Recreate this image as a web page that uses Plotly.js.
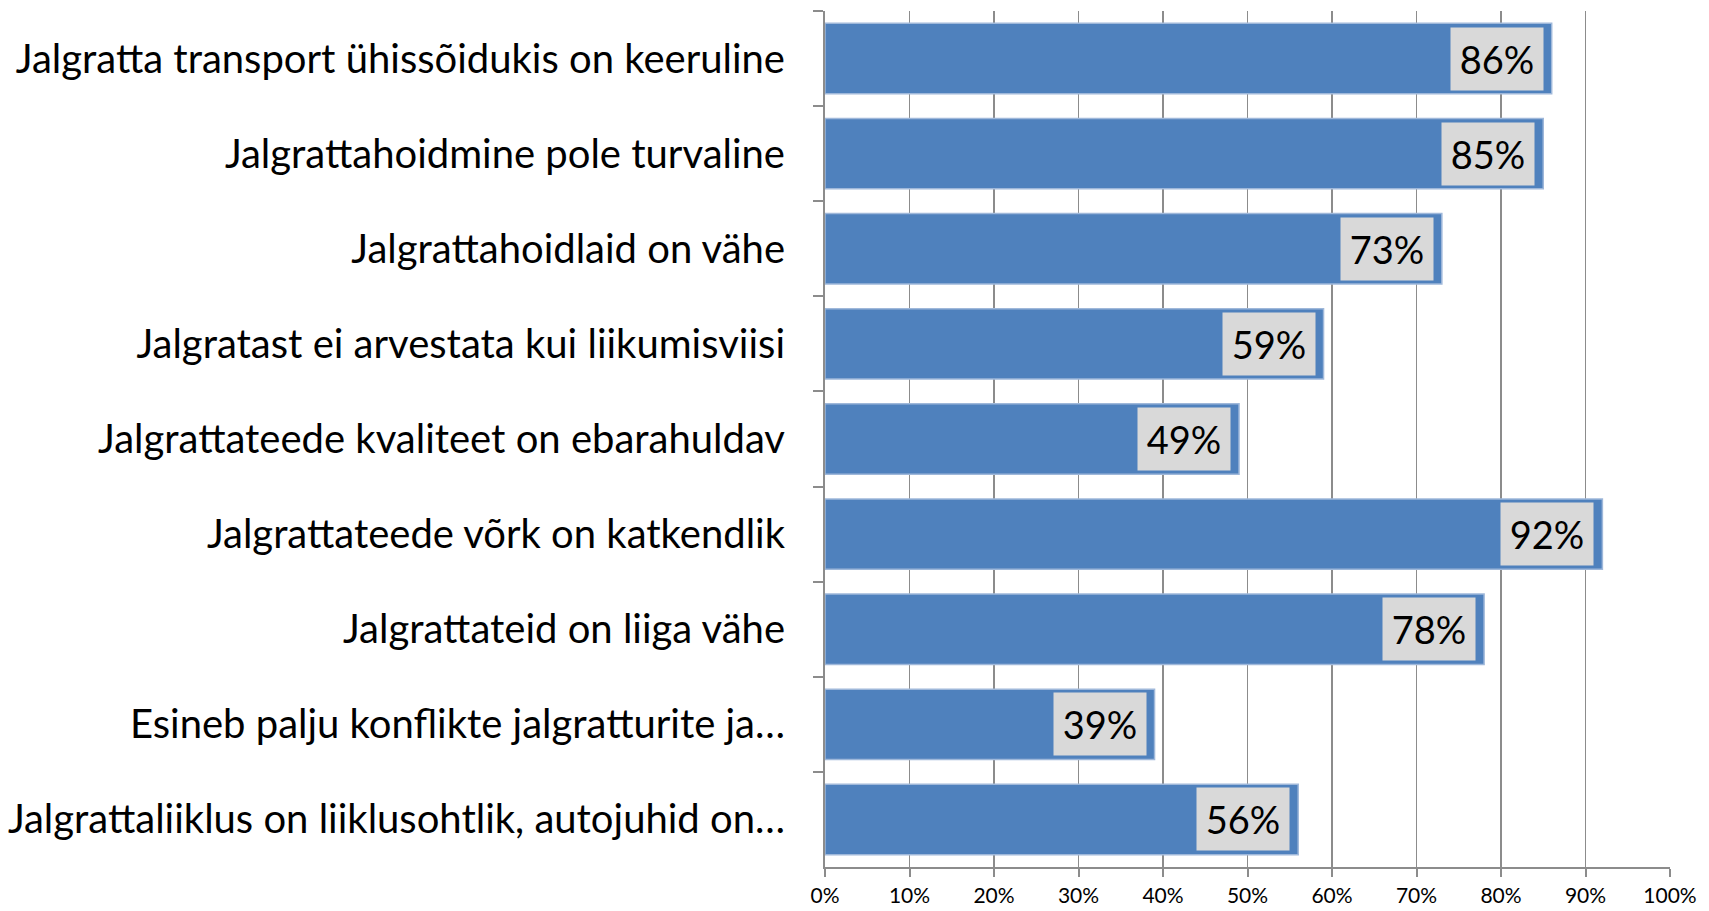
<!DOCTYPE html>
<html>
<head>
<meta charset="utf-8">
<script src="https://cdn.plot.ly/plotly-3.0.1.min.js"></script>
<style>
  html, body { margin: 0; padding: 0; background: #fff; }
  #chart { width: 1709px; height: 911px; }
</style>
</head>
<body>
<div id="chart"></div>
<script>
// top-to-bottom order as in the picture
const categories = [
  'Jalgratta transport ühissõidukis on keeruline',
  'Jalgrattahoidmine pole turvaline',
  'Jalgrattahoidlaid on vähe',
  'Jalgratast ei arvestata kui liikumisviisi',
  'Jalgrattateede kvaliteet on ebarahuldav',
  'Jalgrattateede võrk on katkendlik',
  'Jalgrattateid on liiga vähe',
  'Esineb palju konflikte jalgratturite ja…',
  'Jalgrattaliiklus on liiklusohtlik, autojuhid on…'
];
const shares = [0.86, 0.85, 0.73, 0.59, 0.49, 0.92, 0.78, 0.39, 0.56];
const shareLabels = ['86%', '85%', '73%', '59%', '49%', '92%', '78%', '39%', '56%'];
const tickVals = [0, 0.1, 0.2, 0.3, 0.4, 0.5, 0.6, 0.7, 0.8, 0.9, 1];
const tickText = ['0%', '10%', '20%', '30%', '40%', '50%', '60%', '70%', '80%', '90%', '100%'];

const FONT = 'Lato, "Open Sans", sans-serif';

const trace = {
  type: 'bar',
  orientation: 'h',
  x: shares,
  y: categories,
  marker: { color: '#4f81bd', line: { color: '#9fb8da', width: 1.5 } },
  hoverinfo: 'none'
};

// value labels: grey boxes sitting inside the bar end
const annotations = shares.map((v, i) => ({
  x: v, y: categories[i], xref: 'x', yref: 'y',
  text: shareLabels[i],
  showarrow: false,
  xanchor: 'right',
  xshift: -8,
  bgcolor: '#d9d9d9',
  width: 90, height: 60,
  font: { family: FONT, size: 38, color: '#000' }
}));

const layout = {
  width: 1709, height: 911,
  paper_bgcolor: '#fff', plot_bgcolor: '#fff',
  margin: { l: 825, r: 39, t: 11, b: 44 },
  bargap: 0.26,
  showlegend: false,
  font: { family: FONT, color: '#000' },
  xaxis: {
    range: [0, 1],
    tickvals: tickVals, ticktext: tickText,
    showgrid: true, gridcolor: '#8c8c8c', gridwidth: 1.5,
    zeroline: false,
    showline: true, linecolor: '#8c8c8c', linewidth: 2,
    ticks: 'outside', ticklen: 8, tickcolor: '#8c8c8c', tickwidth: 2,
    ticklabelstandoff: 1,
    tickfont: { family: FONT, size: 21, color: '#000' },
    fixedrange: true
  },
  yaxis: {
    type: 'category',
    autorange: 'reversed',
    showgrid: false, zeroline: false,
    showline: true, linecolor: '#8c8c8c', linewidth: 2,
    ticks: 'outside', tickson: 'boundaries', ticklen: 10, tickcolor: '#8c8c8c', tickwidth: 2,
    ticklabelstandoff: 30,
    tickfont: { family: FONT, size: 40, color: '#000' },
    fixedrange: true
  },
  annotations: annotations
};

Plotly.newPlot('chart', [trace], layout, { displayModeBar: false, staticPlot: true });
</script>
</body>
</html>
